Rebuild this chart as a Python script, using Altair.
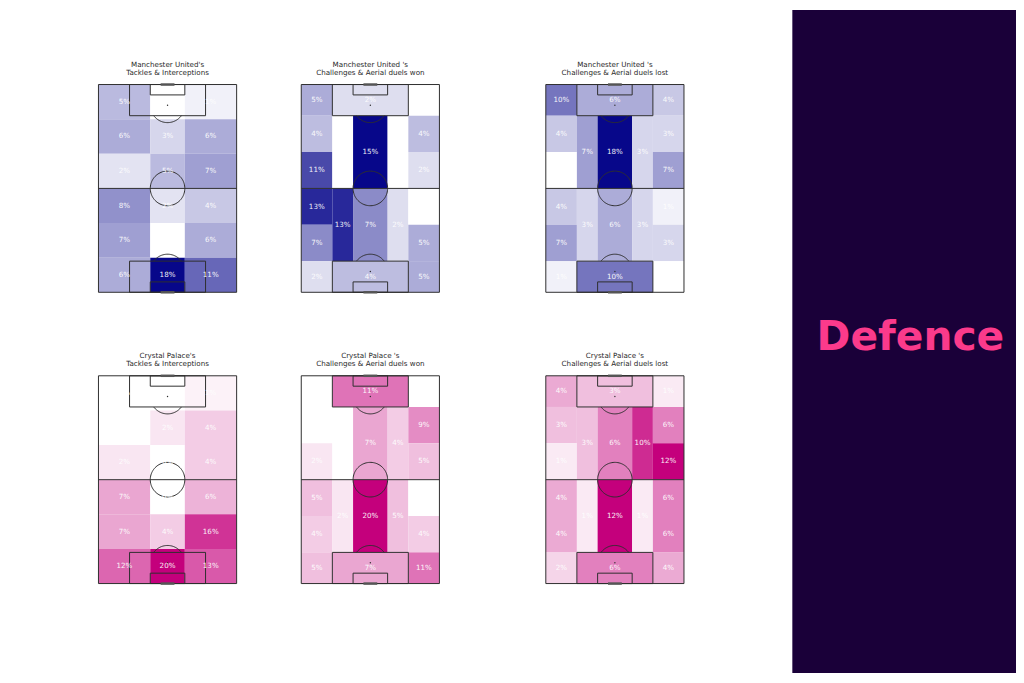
import altair as alt
import numpy as np
import pandas as pd

# ------------------------------------------------------------------ data
# 3 x 6 grid (Tackles & Interceptions); values listed row by row, top to bottom, left -> right
GRID_COLS = [(0, 30), (30, 50), (50, 80)]
GRID_ROWS = [(0, 20), (20, 40), (40, 60), (60, 80), (80, 100), (100, 120)]
mu_tackles = [5, 0, 1,
              6, 3, 6,
              2, 5, 7,
              8, 2, 4,
              7, 0, 6,
              6, 18, 11]
cp_tackles = [0, 0, 1,
              0, 2, 4,
              2, 0, 4,
              7, 0, 6,
              7, 4, 16,
              12, 20, 13]

# positional (juego de posicion) zones: top box, left flank x6, left half-space x2,
# centre x2, right half-space x2, right flank x6, bottom box
FLANK_ROWS = [(0, 18), (18, 39), (39, 60), (60, 81), (81, 102), (102, 120)]
INNER_ROWS = [(18, 60), (60, 102)]
POS_ZONES = ([(18, 62, 0, 18)]
             + [(0, 18, a, b) for a, b in FLANK_ROWS]
             + [(18, 30, a, b) for a, b in INNER_ROWS]
             + [(30, 50, a, b) for a, b in INNER_ROWS]
             + [(50, 62, a, b) for a, b in INNER_ROWS]
             + [(62, 80, a, b) for a, b in FLANK_ROWS]
             + [(18, 62, 102, 120)])
mu_won = [2, 5, 4, 11, 13, 7, 2, 0, 13, 15, 7, 0, 2, 0, 4, 2, 0, 5, 5, 4]
mu_lost = [6, 10, 4, 0, 4, 7, 1, 7, 3, 18, 6, 3, 3, 4, 3, 7, 1, 3, 0, 10]
cp_won = [11, 0, 0, 2, 5, 4, 5, 0, 2, 7, 20, 4, 5, 0, 9, 5, 0, 4, 11, 7]
cp_lost = [3, 4, 3, 1, 4, 4, 2, 3, 1, 6, 12, 10, 1, 1, 6, 12, 6, 6, 4, 6]

titles = [
    ["Manchester United's", "Tackles & Interceptions"],
    ["Manchester United 's", "Challenges & Aerial duels won"],
    ["Manchester United 's", "Challenges & Aerial duels lost"],
    ["Crystal Palace's", "Tackles & Interceptions"],
    ["Crystal Palace 's", "Challenges & Aerial duels won"],
    ["Crystal Palace 's", "Challenges & Aerial duels lost"],
]
panel_label = ["Defence"]

# ------------------------------------------------------------------ styling
BLUE = "#07078a"
PINK = "#c4007c"
LINE = "#2e2e2e"
PITCH_W, PITCH_H = 139, 209

GRID_ZONES = [(c0, c1, r0, r1) for r0, r1 in GRID_ROWS for c0, c1 in GRID_COLS]

X_SCALE = alt.Scale(domain=[0, 80], nice=False, zero=False)
Y_SCALE = alt.Scale(domain=[0, 120], nice=False, zero=False, reverse=True)

# pitch markings (statsbomb 120 x 80 pitch, drawn vertically)
boxes = pd.DataFrame({"x": [0, 18, 30, 18, 30], "x2": [80, 62, 50, 62, 50],
                      "y": [0, 0, 0, 102, 114], "y2": [120, 18, 6, 120, 120]})
halfway = pd.DataFrame({"x": [0], "x2": [80], "y": [60]})
goals = pd.DataFrame({"x": [36, 36], "x2": [44, 44], "y": [0, 120]})
spots = pd.DataFrame({"x": [40, 40], "y": [12, 108]})

t_full = np.linspace(0, 2 * np.pi, 91)
a0 = np.arcsin(0.6)
t_arc = np.linspace(a0, np.pi - a0, 40)
arcs = pd.concat([
    pd.DataFrame({"x": 40 + 10 * np.cos(t_full), "y": 60 + 10 * np.sin(t_full),
                  "shape": "centre", "order": np.arange(len(t_full))}),
    pd.DataFrame({"x": 40 + 10 * np.cos(t_arc), "y": 12 + 10 * np.sin(t_arc),
                  "shape": "top", "order": np.arange(len(t_arc))}),
    pd.DataFrame({"x": 40 + 10 * np.cos(t_arc), "y": 108 - 10 * np.sin(t_arc),
                  "shape": "bottom", "order": np.arange(len(t_arc))}),
], ignore_index=True)


def zone_frame(zones, values):
    df = pd.DataFrame(zones, columns=["x", "x2", "y", "y2"])
    df["value"] = values
    df["cx"] = (df["x"] + df["x2"]) / 2
    df["cy"] = (df["y"] + df["y2"]) / 2
    df["label"] = [f"{v}%" for v in values]
    df["norm"] = df["value"] / max(values)
    return df


def pitch(zones, values, title, dark):
    df = zone_frame(zones, values)
    cells = alt.Chart(df).mark_rect(strokeWidth=0).encode(
        x=alt.X("x:Q", scale=X_SCALE, axis=None), x2="x2:Q",
        y=alt.Y("y:Q", scale=Y_SCALE, axis=None), y2="y2:Q",
        color=alt.Color("norm:Q", legend=None,
                        scale=alt.Scale(domain=[0, 1], range=["#ffffff", dark],
                                        interpolate="rgb")),
    )
    box_layer = alt.Chart(boxes).mark_rect(fillOpacity=0, stroke=LINE, strokeWidth=1).encode(
        x=alt.X("x:Q", scale=X_SCALE, axis=None), x2="x2:Q",
        y=alt.Y("y:Q", scale=Y_SCALE, axis=None), y2="y2:Q")
    half_layer = alt.Chart(halfway).mark_rule(color=LINE, strokeWidth=1).encode(
        x=alt.X("x:Q", scale=X_SCALE, axis=None), x2="x2:Q",
        y=alt.Y("y:Q", scale=Y_SCALE, axis=None))
    goal_layer = alt.Chart(goals).mark_rule(color="#555555", strokeWidth=2.5).encode(
        x=alt.X("x:Q", scale=X_SCALE, axis=None), x2="x2:Q",
        y=alt.Y("y:Q", scale=Y_SCALE, axis=None))
    arc_layer = alt.Chart(arcs).mark_line(color=LINE, strokeWidth=1).encode(
        x=alt.X("x:Q", scale=X_SCALE, axis=None),
        y=alt.Y("y:Q", scale=Y_SCALE, axis=None),
        detail="shape:N", order="order:Q")
    spot_layer = alt.Chart(spots).mark_point(filled=True, size=2, color=LINE, opacity=1).encode(
        x=alt.X("x:Q", scale=X_SCALE, axis=None),
        y=alt.Y("y:Q", scale=Y_SCALE, axis=None))
    labels = alt.Chart(df).mark_text(color="white", fontSize=7.2, font="DejaVu Sans",
                                     opacity=0.92).encode(
        x=alt.X("cx:Q", scale=X_SCALE, axis=None),
        y=alt.Y("cy:Q", scale=Y_SCALE, axis=None),
        text="label:N")
    return alt.layer(cells, box_layer, half_layer, arc_layer, goal_layer, spot_layer, labels).properties(
        width=PITCH_W, height=PITCH_H,
        title=alt.TitleParams(text=title, fontSize=7.2, font="DejaVu Sans", fontWeight="normal",
                              color="#2a2a2a", offset=7, lineHeight=8.5, anchor="middle"),
    )


def row(charts):
    inner = alt.hconcat(charts[0], charts[1], spacing=63).resolve_scale(
        color="independent", x="independent", y="independent")
    return alt.hconcat(inner, charts[2], spacing=105).resolve_scale(
        color="independent", x="independent", y="independent")


p1 = pitch(GRID_ZONES, mu_tackles, titles[0], BLUE)
p2 = pitch(POS_ZONES, mu_won, titles[1], BLUE)
p3 = pitch(POS_ZONES, mu_lost, titles[2], BLUE)
p4 = pitch(GRID_ZONES, cp_tackles, titles[3], PINK)
p5 = pitch(POS_ZONES, cp_won, titles[4], PINK)
p6 = pitch(POS_ZONES, cp_lost, titles[5], PINK)

rows = alt.vconcat(row([p1, p2, p3]), row([p4, p5, p6]), spacing=58).resolve_scale(
    color="independent", x="independent", y="independent")

spacer = alt.Chart(pd.DataFrame({"v": [0]})).mark_point(size=0, opacity=0).encode(
    x=alt.X("v:Q", axis=None), y=alt.Y("v:Q", axis=None)).properties(
    width=1, height=51, view=alt.ViewBackground(strokeWidth=0, stroke="transparent"))

grid = alt.vconcat(spacer, rows, spacing=0).resolve_scale(
    color="independent", x="independent", y="independent")

panel_df = pd.DataFrame({"label": panel_label, "px": [0.528], "py": [0.513]})
panel = alt.Chart(panel_df).mark_text(
    font="DejaVu Sans", fontWeight="bold", fontSize=41, color="#fb3a8b",
    baseline="alphabetic", align="center").encode(
    x=alt.X("px:Q", scale=alt.Scale(domain=[0, 1]), axis=None),
    y=alt.Y("py:Q", scale=alt.Scale(domain=[0, 1], reverse=True), axis=None),
    text="label:N",
).properties(width=225, height=667,
             view=alt.ViewBackground(fill="#1a0039", strokeWidth=0, stroke="transparent"))

chart = alt.hconcat(grid, panel, spacing=108).resolve_scale(
    color="independent", x="independent", y="independent"
).properties(
    padding={"left": 90, "top": 0, "right": 0, "bottom": 0},
    background="white",
).configure(font="DejaVu Sans").configure_view(strokeWidth=0, stroke="transparent")

chart.save("out.html", embed_options={"renderer": "svg", "actions": False})
